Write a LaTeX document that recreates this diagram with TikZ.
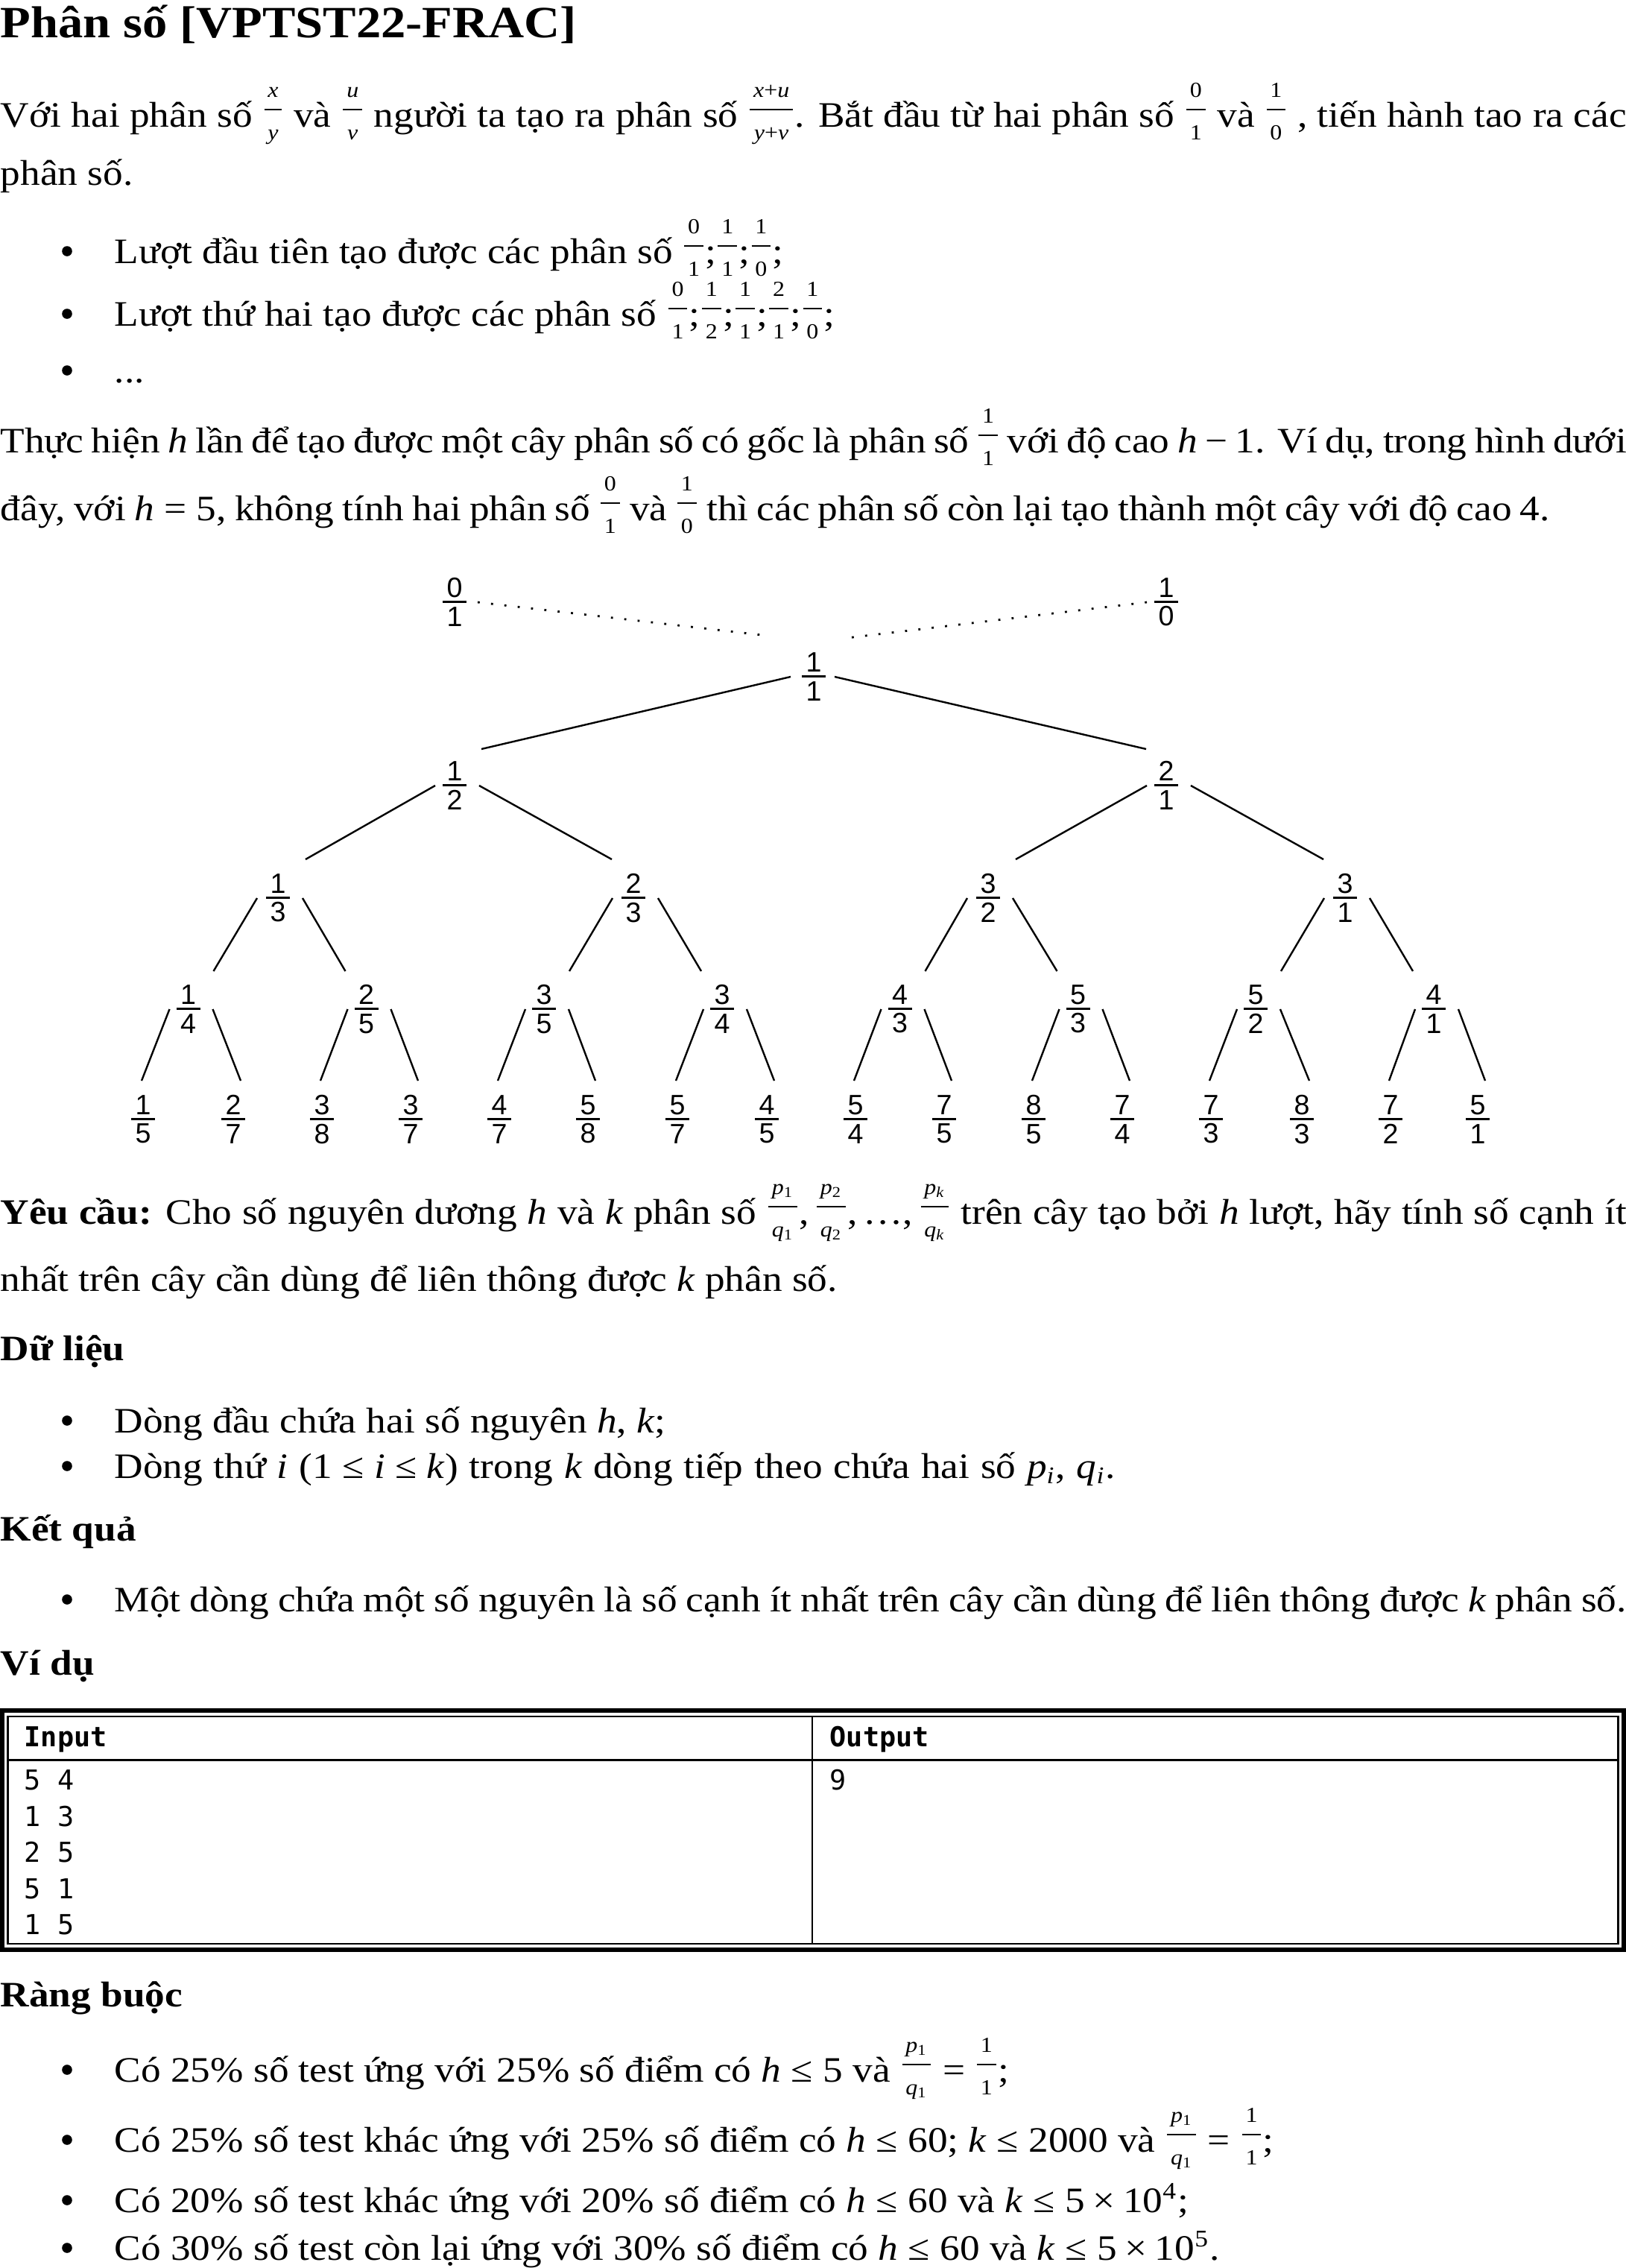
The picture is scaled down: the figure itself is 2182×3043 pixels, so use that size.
\documentclass[tikz,border=0pt]{standalone}
\usepackage{fontspec}
\setmainfont{Liberation Serif}[FakeStretch=1.11]
\newfontfamily\treefont{Liberation Sans}
\newfontfamily\codefont{DejaVu Sans Mono}
\usetikzlibrary{calc}
\newlength\frw
\newcommand\ffr{\fontsize{7.2pt}{8.5pt}\selectfont}
\newcommand\frc[2]{{\sbox0{\ffr #1}\sbox2{\ffr #2}%
  \setlength\frw{\wd0}\ifdim\wd2>\frw\setlength\frw{\wd2}\fi
  \addtolength\frw{2.4pt}%
  \kern0.6pt\rlap{\hbox to\frw{\hss\raise10pt\box0\hss}}%
  \rlap{\hbox to\frw{\hss\lower4.3pt\box2\hss}}%
  \rule[5.55pt]{\frw}{0.5pt}\kern0.6pt}}
\newcommand\tfr[2]{\makebox[0pt]{\raisebox{1.5pt}{#1}}\makebox[0pt]{\rule[-0.375pt]{8pt}{0.75pt}}\makebox[0pt]{\raisebox{-8.1pt}{#2}}}
\newcommand\ms{\hspace{0.22em}}
\newcommand\ts{\hspace{0.28em}}
\newcommand\va[1]{\textit{#1}}
\tikzset{
  txt/.style={anchor=base west,inner sep=0pt,font=\fontsize{12pt}{14pt}\selectfont},
  tnode/.style={inner sep=0pt,font=\treefont\fontsize{9.4pt}{10pt}\selectfont},
  edge/.style={line width=0.6pt},
  dotl/.style={line width=0.7pt,dash pattern=on 0.7pt off 3.8pt},
  code/.style={anchor=base west,inner sep=0pt,font=\codefont\fontsize{9.2pt}{11pt}\selectfont},
  bul/.style={fill=black}
}
\begin{document}
\begin{tikzpicture}[x=0.25pt,y=-0.25pt]
\useasboundingbox (0,0) rectangle (2182,3043);
% title
\node[txt,font=\fontsize{15pt}{18pt}\selectfont\bfseries] (title) at (0,50) {Phân số [VPTST22-FRAC]};
% paragraph 1
\node[txt] (p1a) at (0,170) {\makebox[545.5pt][s]{Với hai phân số \frc{\va{x}}{\va{y}} và \frc{\va{u}}{\va{v}} người ta tạo ra phân số \frc{\va{x}+\va{u}}{\va{y}+\va{v}}. Bắt đầu từ hai phân số \frc{0}{1} và \frc{1}{0} , tiến hành tao ra các}};
\node[txt] (p1b) at (0,248) {phân số.};
% bullets
\foreach \yy in {353,437,513,1922,1983,2162,2793,2887,2968,3032}
  \fill[bul] (90,\yy-16) circle[radius=1.7pt];
\node[txt] (b1) at (153,353) {Lượt đầu tiên tạo được các phân số \frc{0}{1};\frc{1}{1};\frc{1}{0};};
\node[txt] (b2) at (153,437) {Lượt thứ hai tạo được các phân số \frc{0}{1};\frc{1}{2};\frc{1}{1};\frc{2}{1};\frc{1}{0};};
\node[txt] (b3) at (153,513) {...};
\node[txt] (p2a) at (0,607) {\makebox[545.5pt][s]{Thực hiện \va{h} lần để tạo được một cây phân số có gốc là phân số \frc{1}{1} với độ cao \va{h}\ms−\ms1. Ví dụ, trong hình dưới}};
\node[txt] (p2b) at (0,698) {\makebox[519.75pt][s]{đây, với \va{h}\ts=\ts5, không tính hai phân số \frc{0}{1} và \frc{1}{0} thì các phân số còn lại tạo thành một cây với độ cao 4.}};
% tree
\foreach \nm/\x/\y/\a/\b in {r0/610/808/0/1, r1/1565/808/1/0, n1/1092/908/1/1,
  a1/610/1054/1/2, a2/1565/1054/2/1,
  t1/373/1205/1/3, t2/850/1205/2/3, t3/1326/1205/3/2, t4/1805/1205/3/1,
  c1/252.5/1354/1/4, c2/491.5/1354/2/5, c3/730/1354/3/5, c4/969/1354/3/4,
  c5/1207.5/1354/4/3, c6/1446.5/1354/5/3, c7/1685/1354/5/2, c8/1924/1354/4/1,
  d1/192/1502/1/5, d2/313/1502/2/7, d3/432/1502/3/8, d4/551/1502/3/7,
  d5/670/1502/4/7, d6/789/1502/5/8, d7/909/1502/5/7, d8/1029/1502/4/5,
  d9/1148/1502/5/4, d10/1267/1502/7/5, d11/1387/1502/8/5, d12/1506/1502/7/4,
  d13/1625/1502/7/3, d14/1747/1502/8/3, d15/1866/1502/7/2, d16/1983/1502/5/1}
  \node[tnode] (\nm) at (\x,\y) {\tfr{\a}{\b}};
\draw[dotl] ($(r0)+(31,0)$) -- ($(n1)+(-61,-55)$);
\draw[dotl] ($(r1)+(-26,0)$) -- ($(n1)+(44,-52)$);
\foreach \p/\c/\sx/\ex/\ey in {n1/a1/-31/36/-49, n1/a2/28/-27/-49,
  a1/t1/-26/37/-52, a1/t2/33/-29/-52, a2/t3/-26/37/-52, a2/t4/33/-29/-52,
  t1/c1/-28/34/-51, t1/c2/33/-28/-51, t2/c3/-28/34/-51, t2/c4/33/-28/-51,
  t3/c5/-28/34/-51, t3/c6/33/-28/-51, t4/c7/-28/34/-51, t4/c8/33/-28/-51,
  c1/d1/-25/-2/-52, c1/d2/33/10/-52, c2/d3/-25/-2/-52, c2/d4/33/10/-52,
  c3/d5/-25/-2/-52, c3/d6/33/10/-52, c4/d7/-25/-2/-52, c4/d8/33/10/-52,
  c5/d9/-25/-2/-52, c5/d10/33/10/-52, c6/d11/-25/-2/-52, c6/d12/33/10/-52,
  c7/d13/-25/-2/-52, c7/d14/33/10/-52, c8/d15/-25/-2/-52, c8/d16/33/10/-52}
  \draw[edge] ($(\p)+(\sx,0)$) -- ($(\c)+(\ex,\ey)$);
% request
\node[txt] (q1) at (0,1642) {\makebox[545.5pt][s]{\textbf{Yêu cầu:} Cho số nguyên dương \va{h} và \va{k} phân số \frc{\va{p}\textsubscript{1}}{\va{q}\textsubscript{1}},\,\frc{\va{p}\textsubscript{2}}{\va{q}\textsubscript{2}},\,…,\,\frc{\va{p}\textsubscript{\va{k}}}{\va{q}\textsubscript{\va{k}}} trên cây tạo bởi \va{h} lượt, hãy tính số cạnh ít}};
\node[txt] (q2) at (0,1732) {nhất trên cây cần dùng để liên thông được \va{k} phân số.};
\node[txt,font=\fontsize{12pt}{14pt}\selectfont\bfseries] (h1) at (0,1825) {Dữ liệu};
\node[txt] (i1) at (153,1922) {Dòng đầu chứa hai số nguyên \va{h}, \va{k};};
\node[txt] (i2) at (153,1983) {\makebox[335.75pt][s]{Dòng thứ \va{i} (1\ts≤\ts\va{i}\ts≤\ts\va{k}) trong \va{k} dòng tiếp theo chứa hai số \va{p}\textsubscript{\va{i}}, \va{q}\textsubscript{\va{i}}.}};
\node[txt,font=\fontsize{12pt}{14pt}\selectfont\bfseries] (h2) at (0,2067) {Kết quả};
\node[txt] (o1) at (153,2162) {\makebox[507.25pt][s]{Một dòng chứa một số nguyên là số cạnh ít nhất trên cây cần dùng để liên thông được \va{k} phân số.}};
\node[txt,font=\fontsize{12pt}{14pt}\selectfont\bfseries] (h3) at (0,2247) {Ví dụ};
% table
\draw[line width=1.5pt] (3,2295) rectangle (2179,2615.5);
\draw[line width=0.625pt] (10.5,2303) rectangle (2171.5,2608);
\draw[line width=0.85pt] (10.5,2361.5) -- (2171.5,2361.5);
\draw[line width=0.5pt] (1090,2303) -- (1090,2608);
\node[code,font=\codefont\bfseries\fontsize{9.2pt}{11pt}\selectfont] (tin) at (32,2343) {Input};
\node[code,font=\codefont\bfseries\fontsize{9.2pt}{11pt}\selectfont] (tout) at (1113,2343) {Output};
\node[code] (r1a) at (32,2401.6) {5 4};
\node[code] (r2a) at (32,2450) {1 3};
\node[code] (r3a) at (32,2498.5) {2 5};
\node[code] (r4a) at (32,2547) {5 1};
\node[code] (r5a) at (32,2595.5) {1 5};
\node[code] (r1b) at (1113,2401.6) {9};
% constraints
\node[txt,font=\fontsize{12pt}{14pt}\selectfont\bfseries] (h4) at (0,2692) {Ràng buộc};
\node[txt] (k1) at (153,2793) {Có 25\% số test ứng với 25\% số điểm có \va{h}\ts≤\ts5 và \frc{\va{p}\textsubscript{1}}{\va{q}\textsubscript{1}}\ts=\ts\frc{1}{1};};
\node[txt] (k2) at (153,2887) {Có 25\% số test khác ứng với 25\% số điểm có \va{h}\ts≤\ts60; \va{k}\ts≤\ts2000 và \frc{\va{p}\textsubscript{1}}{\va{q}\textsubscript{1}}\ts=\ts\frc{1}{1};};
\node[txt] (k3) at (153,2968) {Có 20\% số test khác ứng với 20\% số điểm có \va{h}\ts≤\ts60 và \va{k}\ts≤\ts5\ms×\ms10\textsuperscript{4};};
\node[txt] (k4) at (153,3032) {Có 30\% số test còn lại ứng với 30\% số điểm có \va{h}\ts≤\ts60 và \va{k}\ts≤\ts5\ms×\ms10\textsuperscript{5}.};
\end{tikzpicture}
\end{document}
